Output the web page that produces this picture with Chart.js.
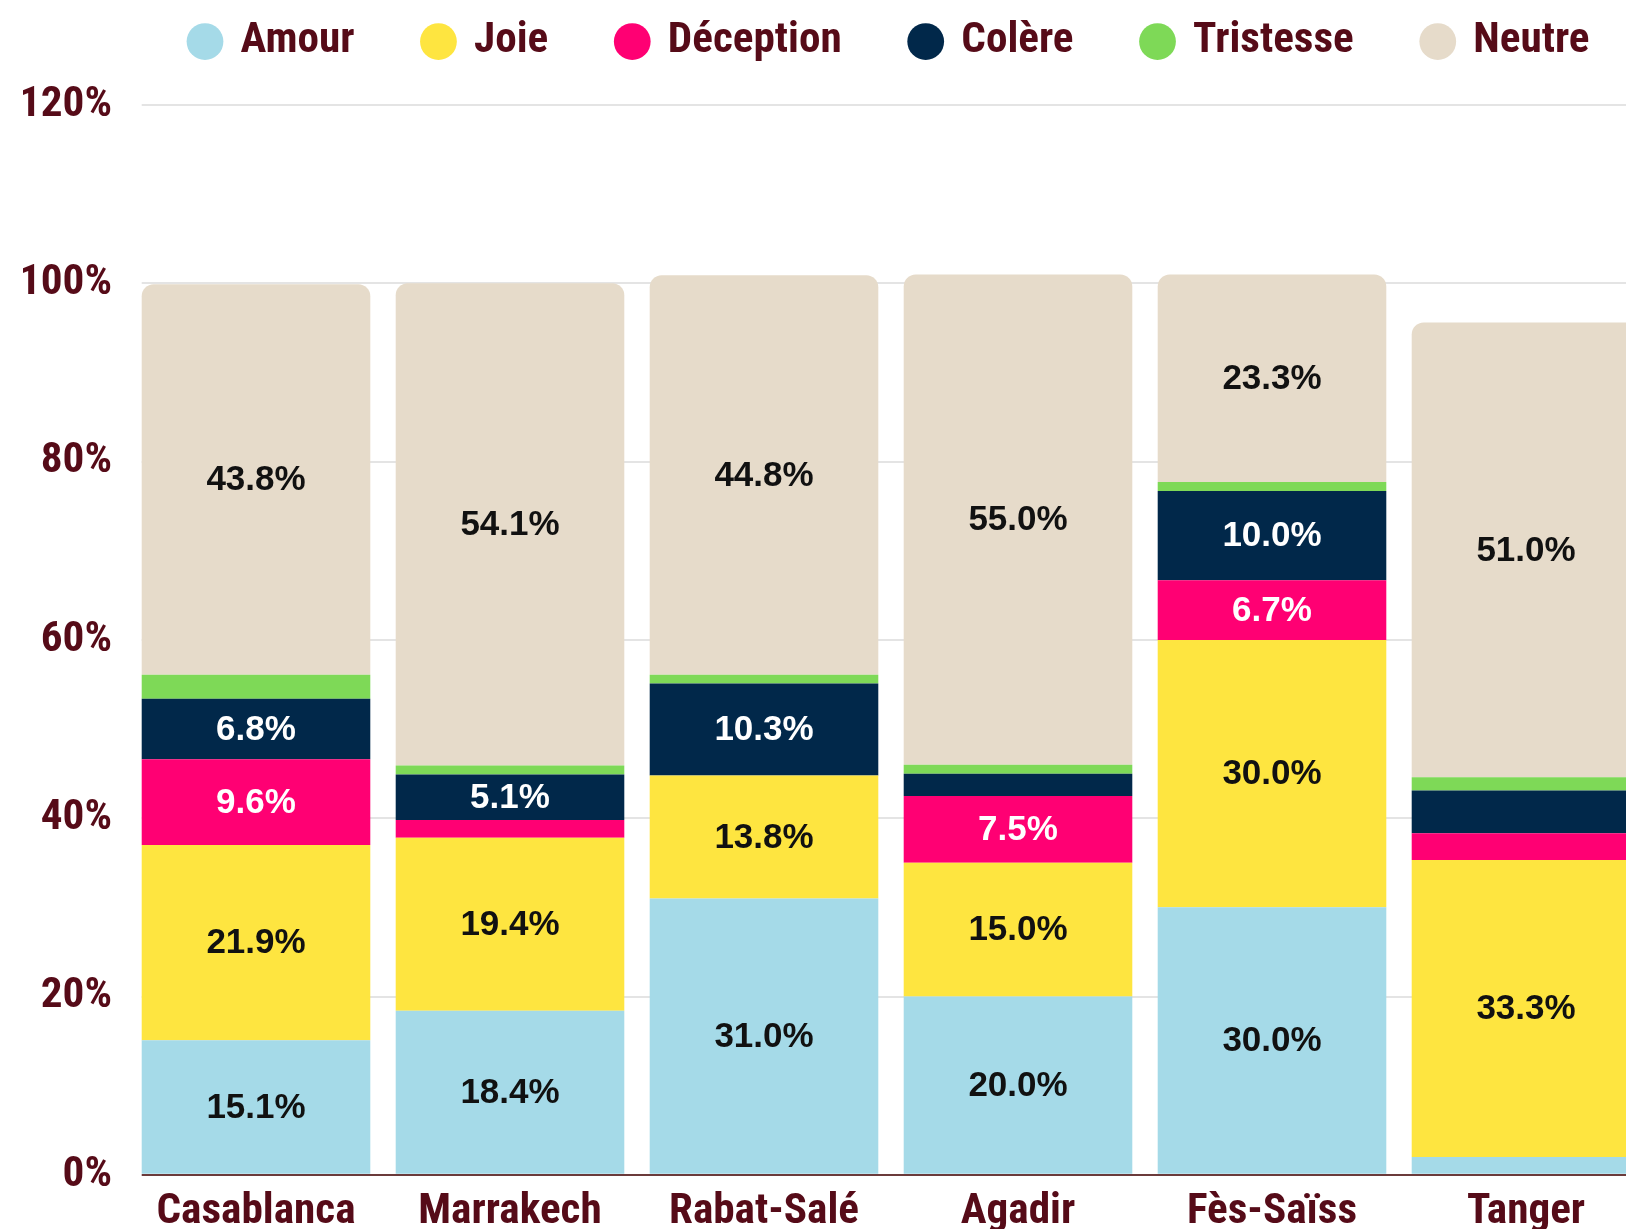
<!DOCTYPE html>
<html>
<head>
<meta charset="utf-8">
<script src="https://cdn.jsdelivr.net/npm/chart.js@4.4.1/dist/chart.umd.min.js"></script>
<style>
  html, body { margin: 0; padding: 0; background: #ffffff; overflow: hidden; }
  #wrap { width: 1626px; height: 1229px; overflow: hidden; }
  canvas { display: block; }
</style>
</head>
<body>
<div id="wrap"><canvas id="c" width="1700" height="1229" style="width:1700px;height:1229px"></canvas></div>
<script>
// ---- Data ----
const categories = ['Casablanca', 'Marrakech', 'Rabat-Salé', 'Agadir', 'Fès-Saïss', 'Tanger'];
const seriesNames = ['Amour', 'Joie', 'Déception', 'Colère', 'Tristesse', 'Neutre'];
const amour     = [15.1, 18.4, 31.0, 20.0, 30.0, 2.0];
const joie      = [21.9, 19.4, 13.8, 15.0, 30.0, 33.3];
const deception = [9.6, 2.0, 0, 7.5, 6.7, 3.0];
const colere    = [6.8, 5.1, 10.3, 2.5, 10.0, 4.8];
const tristesse = [2.7, 1.0, 1.0, 1.0, 1.0, 1.5];
const neutre    = [43.8, 54.1, 44.8, 55.0, 23.3, 51.0];
const yTicks    = [0, 20, 40, 60, 80, 100, 120];

// ---- Styles ----
const colors = ['#A5DAE8', '#FEE540', '#FF0073', '#01284A', '#7ED957', '#E6DBCA'];
const labelColors = ['#111111', '#111111', '#FFFFFF', '#FFFFFF', '#111111', '#111111'];
const maroon = '#560b18';
const regular = '"Liberation Sans", Arial, sans-serif';

// pick the narrowest available bold face close to the reference width
function pickNarrow() {
  const ctx = document.createElement('canvas').getContext('2d');
  const sample = 'Casablanca';
  const target = 199; // px at 42px in the reference
  ctx.font = 'bold 42px monospace';
  const mono = ctx.measureText(sample).width;
  const cands = [
    ['bold', '"Liberation Sans Narrow"'],
    ['bold', '"Arial Narrow"'],
    ['bold', '"Roboto Condensed"'],
    ['bold', '"Open Sans Condensed"'],
    ['bold', '"DejaVu Sans Condensed"'],
    ['condensed bold', '"Liberation Sans"'],
    ['condensed bold', 'Roboto'],
    ['condensed bold', '"Open Sans"'],
    ['condensed bold', '"Noto Sans"'],
    ['semi-condensed bold', 'Roboto'],
    ['semi-condensed bold', '"Open Sans"'],
    ['semi-condensed bold', '"Noto Sans"'],
    ['bold', '"Liberation Sans"']
  ];
  let best = null;
  cands.forEach(([w, f]) => {
    ctx.font = w + ' 42px ' + f + ', monospace';
    const width = ctx.measureText(sample).width;
    if (Math.abs(width - mono) < 0.5) return;
    const score = Math.abs(width - target);
    if (!best || score < best.score) best = { weight: w, family: f, width, score };
  });
  let size = 42 * target / best.width;
  size = Math.max(34, Math.min(44, size));
  return { weight: best.weight, family: best.family + ', "Liberation Sans", sans-serif', size: Math.round(size * 10) / 10 };
}
const nf = pickNarrow();

const values = [amour, joie, deception, colere, tristesse, neutre];
const datasets = values.map((arr, i) => ({
  label: seriesNames[i],
  data: arr,
  backgroundColor: colors[i],
  borderWidth: 0,
  borderRadius: i === 5 ? 12 : 0,
  categoryPercentage: 0.9,
  barPercentage: 1.0
}));

const segmentLabels = {
  id: 'segmentLabels',
  afterDatasetsDraw(chart) {
    const ctx = chart.ctx;
    ctx.save();
    ctx.font = 'bold 35px ' + regular;
    ctx.textAlign = 'center';
    ctx.textBaseline = 'middle';
    chart.data.datasets.forEach((ds, di) => {
      const meta = chart.getDatasetMeta(di);
      meta.data.forEach((el, i) => {
        const v = ds.data[i];
        if (v == null || v < 5) return;
        const props = el.getProps(['x', 'y', 'base'], true);
        ctx.fillStyle = labelColors[di];
        ctx.fillText(v.toFixed(1) + '%', props.x, (props.y + props.base) / 2 + 1);
      });
    });
    ctx.restore();
  }
};

// the reference's grid and axis line begin at the first bar's left edge
const trimGridStart = {
  id: 'trimGridStart',
  beforeDatasetsDraw(chart) {
    const el = chart.getDatasetMeta(0).data[0];
    if (!el) return;
    const p = el.getProps(['x', 'width'], true);
    const a = chart.chartArea;
    const w = p.x - p.width / 2 - a.left;
    if (w <= 0) return;
    const ctx = chart.ctx;
    ctx.save();
    ctx.fillStyle = '#ffffff';
    ctx.fillRect(a.left - 1, a.top - 3, w + 1, a.bottom - a.top + 6);
    ctx.restore();
  }
};

const legendPlace = {
  id: 'legendPlace',
  beforeInit(chart) {
    const lg = chart.legend;
    if (!lg) return;
    const fit = lg.fit;
    lg.fit = function () { fit.call(this); this.height = 120; };
  },
  afterLayout(chart) {
    const lg = chart.legend;
    lg.left = 121;
    lg.right = 1800;
    lg.top = -50;
  }
};

new Chart(document.getElementById('c'), {
  type: 'bar',
  data: { labels: categories, datasets },
  options: {
    responsive: false,
    animation: false,
    layout: { padding: { top: -15, left: 23, right: 47, bottom: -21 } },
    plugins: {
      tooltip: { enabled: false },
      legend: {
        position: 'top',
        align: 'start',
        labels: {
          usePointStyle: true,
          pointStyle: 'circle',
          boxWidth: 28,
          boxHeight: 26,
          padding: 70,
          color: maroon,
          font: { family: nf.family, size: nf.size, weight: nf.weight }
        }
      }
    },
    scales: {
      x: {
        stacked: true,
        grid: { display: false, drawTicks: false },
        border: { display: true, color: '#6b3b3b', width: 2 },
        ticks: {
          color: maroon,
          padding: 16,
          font: { family: nf.family, size: nf.size, weight: nf.weight, lineHeight: 1.0 }
        }
      },
      y: {
        stacked: true,
        min: yTicks[0],
        max: yTicks[yTicks.length - 1],
        afterBuildTicks(scale) { scale.ticks = yTicks.map(v => ({ value: v })); },
        afterFit(scale) { scale.width = 106; },
        grid: { color: '#e4e4e4', lineWidth: 2, drawTicks: false },
        border: { display: false },
        ticks: {
          color: maroon,
          padding: 17,
          font: { family: nf.family, size: nf.size, weight: nf.weight },
          callback: (v) => v + '%'
        }
      }
    }
  },
  plugins: [trimGridStart, segmentLabels, legendPlace]
});
</script>
</body>
</html>
